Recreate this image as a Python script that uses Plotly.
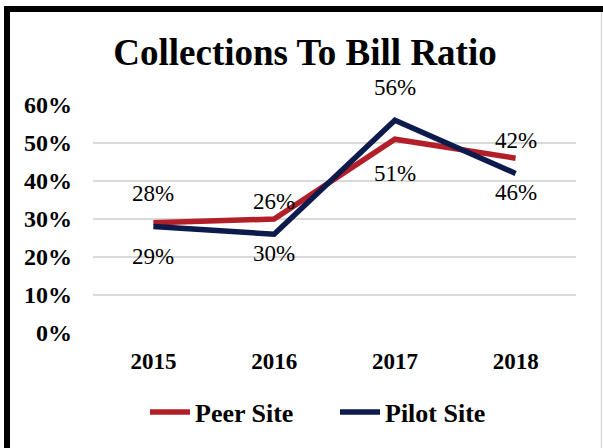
import plotly.graph_objects as go

years = ["2015", "2016", "2017", "2018"]
peer = [29, 30, 51, 46]
pilot = [28, 26, 56, 42]
y_ticks = [0, 10, 20, 30, 40, 50, 60]

W, H = 603, 448
L, R, T, B = 93, 27, 105, 115
PW, PH = W - L - R, H - T - B

def px_x(px):
    return (px - L) / PW

def px_y(py):
    return (H - B - py) / PH

FONT = "Liberation Serif, Times New Roman, serif"
RED = "#B31F29"
NAVY = "#0D1A4C"

fig = go.Figure()
fig.add_trace(go.Scatter(x=years, y=peer, mode="lines", name="<b>Peer Site</b>",
                         line=dict(color=RED, width=5.5)))
fig.add_trace(go.Scatter(x=years, y=pilot, mode="lines", name="<b>Pilot Site</b>",
                         line=dict(color=NAVY, width=5.5)))

for i, v in enumerate(pilot):
    fig.add_annotation(x=i, y=v, xref="x", yref="y", text=f"{v}%", showarrow=False,
                       yshift=33, font=dict(family=FONT, size=23, color="#000"))
for i, v in enumerate(peer):
    fig.add_annotation(x=i, y=v, xref="x", yref="y", text=f"{v}%", showarrow=False,
                       yshift=-34, font=dict(family=FONT, size=23, color="#000"))

shapes = [
    dict(type="rect", xref="paper", yref="paper", x0=px_x(4), x1=px_x(10),
         y0=px_y(460), y1=px_y(6), fillcolor="black", line=dict(width=0), layer="above"),
    dict(type="rect", xref="paper", yref="paper", x0=px_x(4), x1=px_x(610),
         y0=px_y(12), y1=px_y(6), fillcolor="black", line=dict(width=0), layer="above"),
    dict(type="line", xref="paper", yref="paper", x0=px_x(601.5), x1=px_x(601.5),
         y0=px_y(12), y1=px_y(460), line=dict(color="#d9d9d9", width=1.5)),
]

fig.update_layout(
    width=W, height=H,
    margin=dict(l=L, r=R, t=T, b=B, autoexpand=False),
    paper_bgcolor="white", plot_bgcolor="white",
    title=dict(text="<b>Collections To Bill Ratio</b>", x=px_x(305), xref="paper",
               xanchor="center", y=1 - 52 / H, yref="container", yanchor="middle",
               font=dict(family=FONT, size=37, color="#000")),
    xaxis=dict(type="category", range=[-0.5, 3.5], showgrid=False, showline=False,
               ticks="", tickfont=dict(family=FONT, size=23, color="#000"),
               tickprefix="<b>", ticksuffix="</b>", ticklabelstandoff=12),
    yaxis=dict(range=[0, 60], tickvals=y_ticks,
               ticktext=[f"<b>{t}%</b>" for t in y_ticks],
               showgrid=True, gridcolor="#d9d9d9", gridwidth=1.5, zeroline=False,
               showline=False, ticks="",
               tickfont=dict(family=FONT, size=24, color="#000"), ticklabelstandoff=20),
    legend=dict(orientation="h", x=px_x(335), xanchor="center", xref="paper",
                y=1 - 412 / H, yref="container", yanchor="middle",
                font=dict(family=FONT, size=26, color="#000"),
                itemwidth=40, traceorder="normal", entrywidth=135),
    shapes=shapes,
)

fig.write_html("out.html")
